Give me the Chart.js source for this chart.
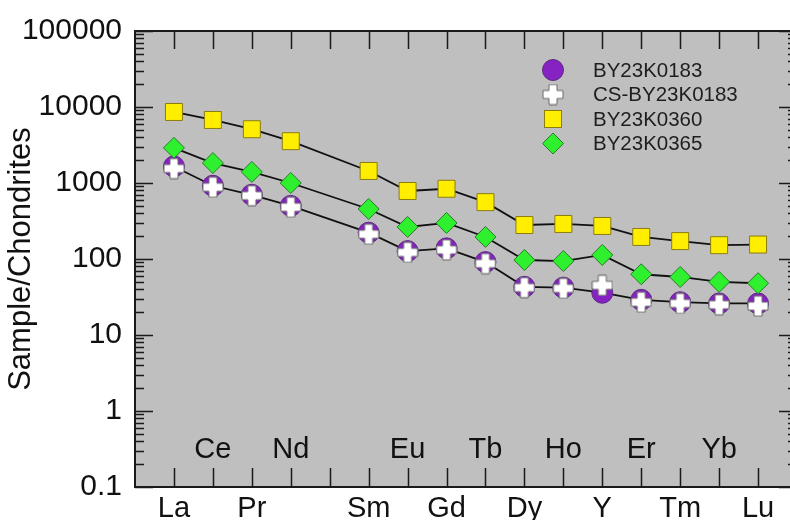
<!DOCTYPE html>
<html>
<head>
<meta charset="utf-8">
<script src="https://cdn.jsdelivr.net/npm/chart.js@4.4.1/dist/chart.umd.min.js"></script>
<style>
  html, body { margin: 0; padding: 0; background: #fff; overflow: hidden; }
  #wrap { position: absolute; left: 0; top: 0; width: 810px; height: 520px; }
</style>
</head>
<body>
<div id="wrap"><canvas id="ree" width="810" height="520"></canvas></div>
<script>
// element order along the x axis (Pm has no data)
const elements = ['La', 'Ce', 'Pr', 'Nd', 'Pm', 'Sm', 'Eu', 'Gd', 'Tb', 'Dy', 'Ho', 'Y', 'Er', 'Tm', 'Yb', 'Lu'];
const bottomLabels = ['La', 'Pr', 'Sm', 'Gd', 'Dy', 'Y', 'Tm', 'Lu'];
const innerLabels = ['Ce', 'Nd', 'Eu', 'Tb', 'Ho', 'Er', 'Yb'];
const yTicks = [0.1, 1, 10, 100, 1000, 10000, 100000];

const seriesNames = ['BY23K0183', 'CS-BY23K0183', 'BY23K0360', 'BY23K0365'];
const by0183   = [1650, 920, 700, 500, null, 222, 127, 138, 91, 43, 42, 36, 29, 27, 26, 26];
const csBy0183 = [1550, 880, 680, 480, null, 212, 122, 132, 87, 42, 41, 45, 27, 26, 25, 24];
const by0360   = [8600, 6750, 5100, 3550, null, 1440, 785, 840, 560, 280, 289, 272, 195, 172, 152, 155];
const by0365   = [2900, 1830, 1400, 1000, null, 455, 264, 298, 195, 97, 94, 113, 63, 58, 50, 48];

const FONT = '"Liberation Sans", Arial, Helvetica, sans-serif';

// white plus marker with a grey outline
function makeCross(size, arm) {
    const c = document.createElement('canvas');
    c.width = size + 2;
    c.height = size + 2;
    const g = c.getContext('2d');
    const o = 1, a = (size - arm) / 2;
    g.beginPath();
    g.moveTo(o + a, o);
    g.lineTo(o + a + arm, o);
    g.lineTo(o + a + arm, o + a);
    g.lineTo(o + size, o + a);
    g.lineTo(o + size, o + a + arm);
    g.lineTo(o + a + arm, o + a + arm);
    g.lineTo(o + a + arm, o + size);
    g.lineTo(o + a, o + size);
    g.lineTo(o + a, o + a + arm);
    g.lineTo(o, o + a + arm);
    g.lineTo(o, o + a);
    g.lineTo(o + a, o + a);
    g.closePath();
    g.fillStyle = '#ffffff';
    g.fill();
    g.strokeStyle = '#6a6a6a';
    g.lineWidth = 1;
    g.stroke();
    return c;
}
const crossImg = makeCross(20, 8);

const toPoints = arr => arr.map((v, i) => ({ x: i, y: v }));

const styles = [
    { pointStyle: 'circle', pointRadius: 10.5, backgroundColor: '#8621c4', borderColor: '#5e2a80', showLine: true, order: 4 },
    { pointStyle: crossImg, pointRadius: 10, backgroundColor: '#ffffff', borderColor: '#6a6a6a', showLine: false, order: 3 },
    { pointStyle: 'rect', pointRadius: 12, backgroundColor: '#ffee00', borderColor: '#8a7d10', showLine: true, order: 1 },
    { pointStyle: 'rectRot', pointRadius: 10.5, backgroundColor: '#2ef02e', borderColor: '#2a7a2a', showLine: true, order: 2 }
];
const seriesData = [by0183, csBy0183, by0360, by0365];

// background, tick marks and frame
const framePlugin = {
    id: 'frame',
    beforeDraw(chart) {
        const { ctx, chartArea: a } = chart;
        ctx.save();
        ctx.fillStyle = '#bfbfbf';
        ctx.fillRect(a.left, a.top, a.right - a.left, a.bottom - a.top);
        ctx.restore();
    },
    beforeDatasetsDraw(chart) {
        const { ctx, chartArea: a, scales } = chart;
        ctx.save();
        ctx.strokeStyle = '#1a1a1a';
        ctx.lineWidth = 1.5;
        ctx.beginPath();
        // x ticks, bottom and top
        for (let i = 0; i <= elements.length; i++) {
            const x = Math.round(scales.x.getPixelForValue(i)) + 0.5;
            ctx.moveTo(x, a.bottom); ctx.lineTo(x, a.bottom - 19);
            ctx.moveTo(x, a.top); ctx.lineTo(x, a.top + 18);
        }
        // y ticks, major and minor, left and right
        for (let d = 0; d < yTicks.length; d++) {
            const y = Math.round(scales.y.getPixelForValue(yTicks[d])) + 0.5;
            ctx.moveTo(a.left, y); ctx.lineTo(a.left + 18, y);
            ctx.moveTo(a.right, y); ctx.lineTo(a.right - 18, y);
            if (d === yTicks.length - 1) continue;
            for (let m = 2; m <= 9; m++) {
                const ym = Math.round(scales.y.getPixelForValue(yTicks[d] * m)) + 0.5;
                ctx.moveTo(a.left, ym); ctx.lineTo(a.left + 9, ym);
                ctx.moveTo(a.right, ym); ctx.lineTo(a.right - 9, ym);
            }
        }
        ctx.stroke();
        ctx.restore();
    },
    afterDraw(chart) {
        const { ctx, chartArea: a, scales } = chart;
        ctx.save();
        // frame
        ctx.strokeStyle = '#1a1a1a';
        ctx.lineWidth = 2;
        ctx.strokeRect(a.left, a.top, a.right - a.left, a.bottom - a.top);

        // element names inside the plot
        ctx.fillStyle = '#111';
        ctx.font = '29px ' + FONT;
        ctx.textAlign = 'center';
        ctx.textBaseline = 'middle';
        innerLabels.forEach(lbl => {
            const x = scales.x.getPixelForValue(elements.indexOf(lbl));
            ctx.fillText(lbl, x, 450);
        });

        // legend
        const lx = 553, tx = 593, ly = 70, step = 24.5;
        seriesNames.forEach((name, i) => {
            const y = ly + i * step;
            const s = styles[i];
            ctx.fillStyle = s.backgroundColor;
            ctx.strokeStyle = s.borderColor;
            ctx.lineWidth = 1;
            if (i === 0) {
                ctx.beginPath(); ctx.arc(lx, y, 10.5, 0, Math.PI * 2); ctx.fill(); ctx.stroke();
            } else if (i === 1) {
                ctx.drawImage(crossImg, lx - crossImg.width / 2, y - crossImg.height / 2);
            } else if (i === 2) {
                ctx.fillRect(lx - 8.5, y - 8.5, 17, 17); ctx.strokeRect(lx - 8.5, y - 8.5, 17, 17);
            } else {
                ctx.beginPath();
                ctx.moveTo(lx, y - 10.5); ctx.lineTo(lx + 10.5, y); ctx.lineTo(lx, y + 10.5); ctx.lineTo(lx - 10.5, y);
                ctx.closePath(); ctx.fill(); ctx.stroke();
            }
            ctx.fillStyle = '#1e1e1e';
            ctx.font = '20.5px ' + FONT;
            ctx.textAlign = 'left';
            ctx.textBaseline = 'middle';
            ctx.fillText(name, tx, y + 1);
        });
        ctx.restore();
    }
};

new Chart(document.getElementById('ree').getContext('2d'), {
    type: 'line',
    data: {
        datasets: seriesNames.map((name, i) => ({
            label: name,
            data: toPoints(seriesData[i]),
            pointStyle: styles[i].pointStyle,
            pointRadius: styles[i].pointRadius,
            pointBackgroundColor: styles[i].backgroundColor,
            pointBorderColor: styles[i].borderColor,
            pointBorderWidth: 1,
            borderColor: '#111111',
            borderWidth: 1.8,
            showLine: styles[i].showLine,
            spanGaps: true,
            tension: 0,
            fill: false,
            order: styles[i].order
        }))
    },
    options: {
        responsive: false,
        animation: false,
        layout: { padding: { top: 30, right: 11, left: 0, bottom: 0 } },
        plugins: {
            legend: { display: false },
            tooltip: { enabled: false }
        },
        scales: {
            x: {
                type: 'linear',
                min: -1,
                max: 16,
                grid: { display: false, drawTicks: false },
                border: { display: false },
                afterBuildTicks: s => { s.ticks = elements.map((e, i) => ({ value: i })); },
                afterFit: s => { s.height = 33; },
                ticks: {
                    autoSkip: false,
                    maxRotation: 0,
                    padding: 5,
                    color: '#111',
                    font: { family: FONT, size: 29 },
                    callback: v => bottomLabels.includes(elements[v]) ? elements[v] : ''
                }
            },
            y: {
                type: 'logarithmic',
                min: 0.1,
                max: 100000,
                grid: { display: false, drawTicks: false },
                border: { display: false },
                afterBuildTicks: s => { s.ticks = yTicks.map(v => ({ value: v })); },
                afterFit: s => { s.width = 135; },
                ticks: {
                    padding: 13,
                    color: '#111',
                    font: { family: FONT, size: 30 },
                    callback: v => String(v)
                },
                title: {
                    display: true,
                    text: 'Sample/Chondrites',
                    color: '#111',
                    font: { family: FONT, size: 31 },
                    padding: { top: 3, bottom: 0 }
                }
            }
        }
    },
    plugins: [framePlugin]
});
</script>
</body>
</html>
